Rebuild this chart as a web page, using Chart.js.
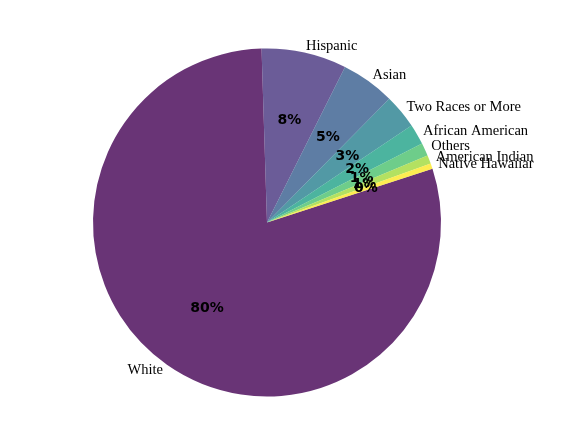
<!DOCTYPE html>
<html>
<head>
<meta charset="utf-8">
<script src="https://cdn.jsdelivr.net/npm/chart.js@4"></script>
<style>
  html, body { margin: 0; padding: 0; background: #fff; }
  #wrap { width: 574px; height: 425px; }
</style>
</head>
<body>
<div id="wrap"><canvas id="pieChart" width="574" height="425"></canvas></div>
<script>
// Data
const groups = ['White', 'Hispanic', 'Asian', 'Two Races or More', 'African American',
                'Others', 'American Indian', 'Native Hawaiiar'];
const shares = [79.5, 7.9, 5.0, 3.2, 1.9, 1.2, 0.8, 0.5];

// viridis, spread over the groups, drawn at 80% opacity
const sliceColors = [
    'rgba(68, 1, 84, 0.8)',
    'rgba(70, 51, 126, 0.8)',
    'rgba(54, 92, 141, 0.8)',
    'rgba(39, 127, 142, 0.8)',
    'rgba(31, 161, 135, 0.8)',
    'rgba(74, 193, 109, 0.8)',
    'rgba(160, 218, 57, 0.8)',
    'rgba(253, 231, 37, 0.8)'
];

const labelDistance = 1.04;
const pctDistance = 0.6;

// Draws the group names outside and the percentages inside each slice
const sliceLabels = {
    id: 'sliceLabels',
    afterDatasetsDraw(chart) {
        const ctx = chart.ctx;
        const arcs = chart.getDatasetMeta(0).data;
        const total = shares.reduce((a, b) => a + b, 0);
        ctx.save();
        arcs.forEach((arc, i) => {
            const { x, y, startAngle, endAngle, outerRadius } = arc.getProps(['x', 'y', 'startAngle', 'endAngle', 'outerRadius'], true);
            const mid = (startAngle + endAngle) / 2;
            const cx = Math.cos(mid), cy = Math.sin(mid);

            // outer name
            ctx.font = '14.5px "Liberation Serif", "DejaVu Serif", serif';
            ctx.fillStyle = '#000';
            ctx.textBaseline = 'middle';
            ctx.textAlign = cx < 0 ? 'right' : 'left';
            ctx.fillText(groups[i], x + cx * outerRadius * labelDistance, y + cy * outerRadius * labelDistance);

            // percentage
            ctx.font = 'bold 14px "DejaVu Sans", sans-serif';
            ctx.textAlign = 'center';
            const pct = Math.round(shares[i] / total * 100) + '%';
            ctx.fillText(pct, x + cx * outerRadius * pctDistance, y + cy * outerRadius * pctDistance);
        });
        ctx.restore();
    }
};

const ctx = document.getElementById('pieChart').getContext('2d');
const pieChart = new Chart(ctx, {
    type: 'pie',
    data: {
        labels: groups,
        datasets: [{
            data: shares,
            backgroundColor: sliceColors,
            borderWidth: 0
        }]
    },
    options: {
        responsive: false,
        animation: false,
        rotation: 72,
        layout: {
            padding: { left: 93, right: 133, top: 48, bottom: 28 }
        },
        plugins: {
            legend: { display: false },
            tooltip: { enabled: false }
        }
    },
    plugins: [sliceLabels]
});
</script>
</body>
</html>
